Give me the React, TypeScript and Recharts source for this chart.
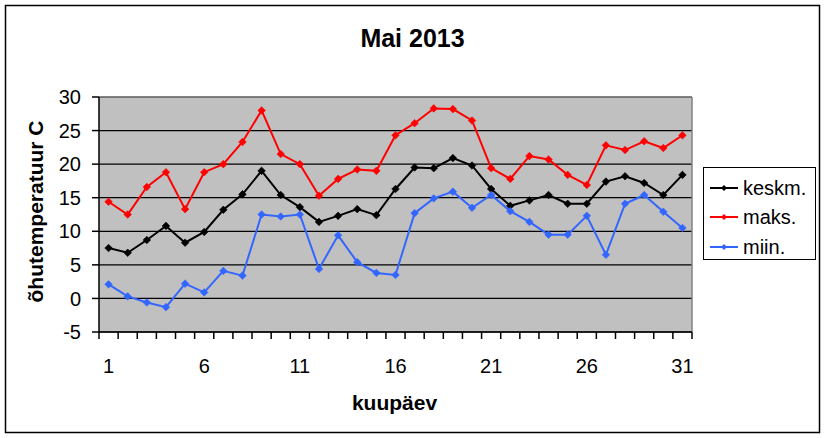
import React from 'react';
import { LineChart, Line, XAxis, YAxis, CartesianGrid, ReferenceLine, Legend } from 'recharts';

const days = [1, 2, 3, 4, 5, 6, 7, 8, 9, 10, 11, 12, 13, 14, 15, 16, 17, 18, 19, 20, 21, 22, 23, 24, 25, 26, 27, 28, 29, 30, 31];
const keskm = [7.5, 6.8, 8.7, 10.8, 8.3, 9.9, 13.2, 15.5, 19.0, 15.4, 13.6, 11.4, 12.3, 13.3, 12.4, 16.3, 19.5, 19.4, 20.9, 19.8, 16.3, 13.8, 14.6, 15.4, 14.1, 14.1, 17.4, 18.2, 17.2, 15.4, 18.4];
const maks = [14.4, 12.5, 16.6, 18.8, 13.3, 18.8, 20.0, 23.3, 28.0, 21.5, 20.0, 15.3, 17.8, 19.2, 19.0, 24.3, 26.1, 28.3, 28.2, 26.5, 19.4, 17.8, 21.2, 20.7, 18.4, 16.9, 22.8, 22.1, 23.4, 22.4, 24.3];
const miin = [2.1, 0.3, -0.6, -1.3, 2.2, 0.9, 4.1, 3.4, 12.5, 12.2, 12.5, 4.4, 9.4, 5.4, 3.8, 3.5, 12.7, 14.9, 15.9, 13.5, 15.4, 13.0, 11.4, 9.5, 9.5, 12.3, 6.5, 14.1, 15.4, 12.9, 10.5];

const xTickLabels = [1, 6, 11, 16, 21, 26, 31];
const yTicks = [-5, 0, 5, 10, 15, 20, 25, 30];
const seriesKeys = ['keskm', 'maks', 'miin'];
const seriesNames = ['keskm.', 'maks.', 'miin.'];
const colors = ['#000000', '#FF0000', '#3366FF'];
const titleText = 'Mai 2013';
const yTitle = 'õhutemperatuur C';
const xTitle = 'kuupäev';

// category boundaries: Excel draws x tick marks between categories
const boundaries = [...days.map((d) => d - 0.5), days[days.length - 1] + 0.5];
const xAxisTicks = [...boundaries, ...xTickLabels].sort((a, b) => a - b);
const yMin = -5;
const yMax = 30;
const data = days.map((d, i) => ({ day: d, keskm: keskm[i], maks: maks[i], miin: miin[i] }));

const FONT = '"Liberation Sans", Arial, sans-serif';

const makeDot = (color: string) => (props: any) => {
  const { cx, cy, index } = props;
  if (cx == null || cy == null) return <g key={`e-${index}`} />;
  const r = 3.8;
  return (
    <path
      key={`d-${index}`}
      d={`M${cx},${cy - r}L${cx + r},${cy}L${cx},${cy + r}L${cx - r},${cy}Z`}
      fill={color}
      stroke={color}
      strokeWidth={0.6}
    />
  );
};

const renderXTick = (props: any) => {
  const { x, y, payload, index } = props;
  const v = Number(payload?.value);
  const isLabel = Math.abs(v - Math.round(v)) < 1e-6;
  if (!isLabel) {
    return (
      <g key={`t-${index}`}>
        <rect x={x - 0.75} y={y} width={1.5} height={7} fill="#000000" />
      </g>
    );
  }
  return (
    <g key={`t-${index}`}>
      <text x={x} y={y + 41} textAnchor="middle" fontFamily={FONT} fontSize={20} fill="#000" stroke="none">
        {v}
      </text>
    </g>
  );
};

const LegendBox = () => (
  <div
    style={{
      width: 113,
      height: 93,
      border: '1px solid #000',
      background: '#fff',
      boxSizing: 'border-box',
      paddingTop: 5,
      fontFamily: FONT,
      fontSize: 20,
      color: '#000',
    }}
  >
    {seriesNames.map((n, i) => (
      <div key={n} style={{ display: 'flex', alignItems: 'center', height: 29.5 }}>
        <svg width={28} height={10} style={{ marginLeft: 6, marginRight: 5 }}>
          <line x1={0} y1={5} x2={28} y2={5} stroke={colors[i]} strokeWidth={2} />
          <path d="M14,2L17,5L14,8L11,5Z" fill={colors[i]} />
        </svg>
        <span style={{ lineHeight: '22px' }}>{n}</span>
      </div>
    ))}
  </div>
);

export default function App() {
  return (
    <div style={{ position: 'absolute', left: 0, top: 0, width: 825, height: 438, background: '#fff' }}>
      <LineChart
        width={825}
        height={438}
        data={data}
        margin={{ top: 97, right: 133, bottom: 76, left: 0 }}
        style={{ fontFamily: FONT }}
      >
        <CartesianGrid vertical={false} stroke="#000" strokeWidth={1.2} fill="#C0C0C0" fillOpacity={1} />
        <YAxis
          domain={[yMin, yMax]}
          ticks={yTicks}
          interval={0}
          width={99}
          tickSize={7}
          tickMargin={11}
          axisLine={{ stroke: '#000', strokeWidth: 1.5 }}
          tickLine={{ stroke: '#000', strokeWidth: 1.5 }}
          tick={{ fill: '#000', fontSize: 20, fontFamily: FONT }}
        />
        <XAxis
          dataKey="day"
          type="number"
          domain={[boundaries[0], boundaries[boundaries.length - 1]]}
          ticks={xAxisTicks}
          interval={0}
          height={30}
          tickLine={false}
          tickSize={0}
          tickMargin={0}
          axisLine={{ stroke: '#000', strokeWidth: 1.5 }}
          tick={renderXTick}
        />
        <ReferenceLine y={yMax} stroke="#808080" strokeWidth={1.5} />
        <ReferenceLine x={boundaries[boundaries.length - 1]} stroke="#808080" strokeWidth={1.5} />
        {seriesKeys.map((k, i) => (
          <Line
            key={k}
            dataKey={k}
            name={seriesNames[i]}
            stroke={colors[i]}
            strokeWidth={2}
            dot={makeDot(colors[i])}
            activeDot={false}
            isAnimationActive={false}
          />
        ))}
        <Legend
          layout="vertical"
          align="center"
          verticalAlign="middle"
          content={<LegendBox />}
          wrapperStyle={{ left: 703, top: 167, width: 113, height: 93 }}
        />
      </LineChart>
      <svg
        width={825}
        height={438}
        style={{ position: 'absolute', left: 0, top: 0, pointerEvents: 'none' }}
      >
        <rect x={5.5} y={5.5} width={814} height={427} fill="none" stroke="#000" strokeWidth={1.5} />
        <text x={412.5} y={47} textAnchor="middle" fontFamily={FONT} fontWeight="bold" fontSize={25} fill="#000">
          {titleText}
        </text>
        <text
          x={43}
          y={211.5}
          textAnchor="middle"
          transform="rotate(-90, 43, 211.5)"
          fontFamily={FONT}
          fontWeight="bold"
          fontSize={21}
          fill="#000"
        >
          {yTitle}
        </text>
        <text x={394.5} y={410} textAnchor="middle" fontFamily={FONT} fontWeight="bold" fontSize={21} fill="#000">
          {xTitle}
        </text>
      </svg>
    </div>
  );
}
